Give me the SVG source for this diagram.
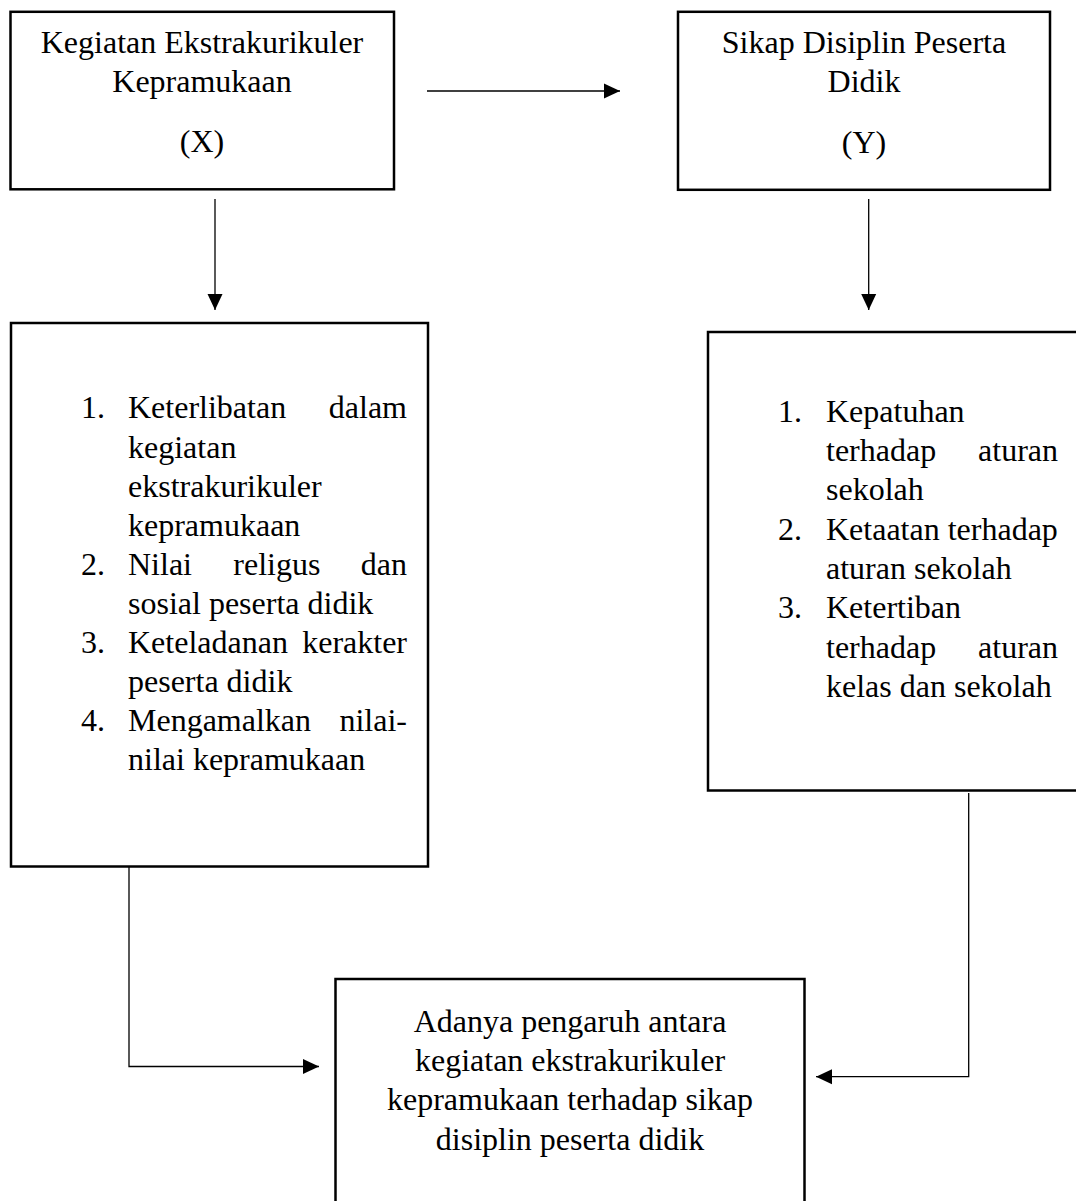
<svg xmlns="http://www.w3.org/2000/svg" width="1076" height="1201" viewBox="0 0 1076 1201">
<style>
.box{fill:#fff;stroke:#000;stroke-width:2.5}
.t{font-family:"Liberation Serif","Times New Roman",serif;font-size:32px;fill:#000}
.c{text-anchor:middle}
.e{text-anchor:end}
.ln{fill:none;stroke:#000;stroke-width:1.3}
</style>
<defs>
<marker id="ah" markerUnits="userSpaceOnUse" markerWidth="16" markerHeight="16" viewBox="0 0 16 16" refX="16" refY="8" orient="auto">
<path d="M0,0.5 L16,8 L0,15.5 Z" fill="#000"/>
</marker>
</defs>
<rect width="1076" height="1201" fill="#fff"/>
<g id="connectors">
<line class="ln" x1="427" y1="91" x2="620" y2="91" marker-end="url(#ah)"/>
<line class="ln" x1="215" y1="199" x2="215" y2="310" marker-end="url(#ah)"/>
<line class="ln" x1="868.7" y1="199" x2="868.7" y2="310" marker-end="url(#ah)"/>
<polyline class="ln" points="129,861 129,1066.5 319,1066.5" marker-end="url(#ah)"/>
<polyline class="ln" points="968.7,793 968.7,1076.7 816,1076.7" marker-end="url(#ah)"/>
</g>
<g id="node-x">
<rect class="box" x="10.5" y="11.8" width="383.5" height="177.5"/>
<text class="t c" x="202" y="53">Kegiatan Ekstrakurikuler</text>
<text class="t c" x="202" y="92">Kepramukaan</text>
<text class="t c" x="202" y="152">(X)</text>
</g>
<g id="node-y">
<rect class="box" x="678" y="11.8" width="372" height="178"/>
<text class="t c" x="864" y="53">Sikap Disiplin Peserta</text>
<text class="t c" x="864" y="92">Didik</text>
<text class="t c" x="864" y="153">(Y)</text>
</g>
<g id="node-x-indicators">
<rect class="box" x="11" y="323" width="417" height="543.5"/>
<text class="t" x="81" y="418.4">1.</text>
<text class="t" x="128" y="418.4">Keterlibatan</text>
<text class="t e" x="407" y="418.4">dalam</text>
<text class="t" x="128" y="457.5">kegiatan</text>
<text class="t" x="128" y="496.6">ekstrakurikuler</text>
<text class="t" x="128" y="535.7">kepramukaan</text>
<text class="t" x="81" y="574.8">2.</text>
<text class="t" x="128" y="574.8">Nilai</text>
<text class="t" x="233.3" y="574.8">religus</text>
<text class="t e" x="407" y="574.8">dan</text>
<text class="t" x="128" y="613.9">sosial peserta didik</text>
<text class="t" x="81" y="653">3.</text>
<text class="t" x="128" y="653">Keteladanan</text>
<text class="t e" x="407" y="653">kerakter</text>
<text class="t" x="128" y="692.1">peserta didik</text>
<text class="t" x="81" y="731.2">4.</text>
<text class="t" x="128" y="731.2">Mengamalkan</text>
<text class="t e" x="407" y="731.2">nilai-</text>
<text class="t" x="128" y="770.3">nilai kepramukaan</text>
</g>
<g id="node-y-indicators">
<rect class="box" x="708" y="332" width="380" height="458.5"/>
<text class="t" x="778" y="421.7">1.</text>
<text class="t" x="826" y="421.7">Kepatuhan</text>
<text class="t" x="826" y="461">terhadap</text>
<text class="t e" x="1058" y="461">aturan</text>
<text class="t" x="826" y="500.3">sekolah</text>
<text class="t" x="778" y="539.6">2.</text>
<text class="t" x="826" y="539.6">Ketaatan terhadap</text>
<text class="t" x="826" y="578.9">aturan sekolah</text>
<text class="t" x="778" y="618.2">3.</text>
<text class="t" x="826" y="618.2">Ketertiban</text>
<text class="t" x="826" y="657.5">terhadap</text>
<text class="t e" x="1058" y="657.5">aturan</text>
<text class="t" x="826" y="696.8">kelas dan sekolah</text>
</g>
<g id="node-result">
<rect class="box" x="335.5" y="979" width="469" height="240"/>
<text class="t c" x="570" y="1031.7">Adanya pengaruh antara</text>
<text class="t c" x="570" y="1071">kegiatan ekstrakurikuler</text>
<text class="t c" x="570" y="1110.3">kepramukaan terhadap sikap</text>
<text class="t c" x="570" y="1149.6">disiplin peserta didik</text>
</g>
</svg>
